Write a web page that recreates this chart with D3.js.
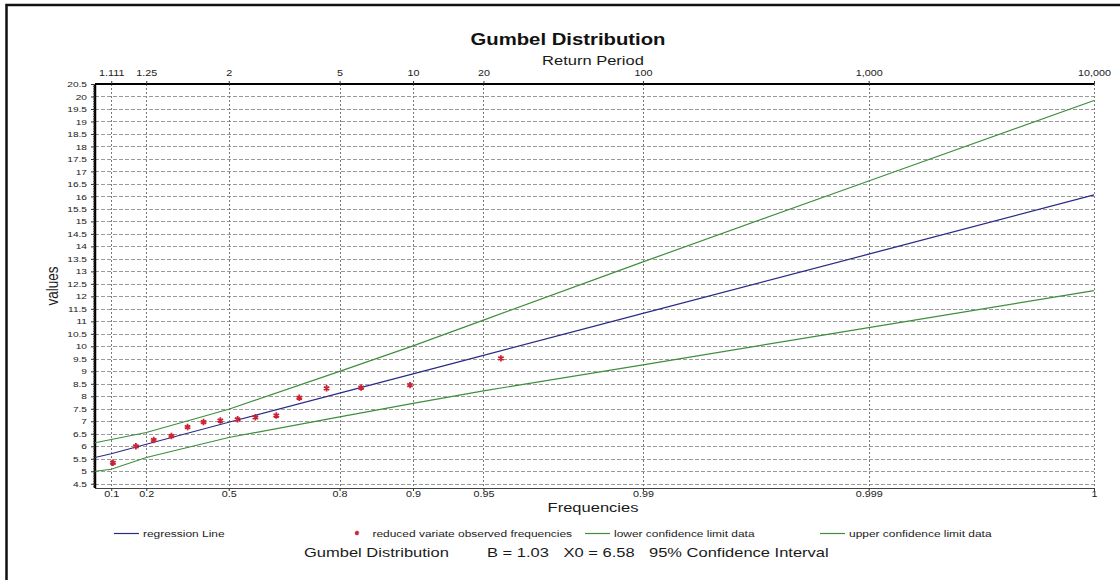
<!DOCTYPE html>
<html>
<head>
<meta charset="utf-8">
<script src="https://cdn.jsdelivr.net/npm/d3@7"></script>
<style>
  body { margin: 0; background: #fff; }
  svg { display: block; font-family: "Liberation Sans", Arial, sans-serif; }
</style>
</head>
<body>
<div id="container"></div>
<script>
// ==================== data ==================== //

// frequency ticks (bottom) and the matching return periods (top)
const freqTicks = [0.1, 0.2, 0.5, 0.8, 0.9, 0.95, 0.99, 0.999, 0.9999];
const freqLabels = ["0.1", "0.2", "0.5", "0.8", "0.9", "0.95", "0.99", "0.999", "1"];
const returnLabels = ["1.111", "1.25", "2", "5", "10", "20", "100", "1,000", "10,000"];

// line samples at the left edge and each tick
const lineFreqs = [0.066, 0.1, 0.2, 0.5, 0.8, 0.9, 0.95, 0.99, 0.999, 0.9999];
const regression = [5.55, 5.70, 6.08, 6.96, 8.13, 8.90, 9.64, 11.32, 13.69, 16.06];
const upperLimit = [6.14, 6.27, 6.55, 7.48, 9.00, 10.02, 11.05, 13.38, 16.62, 19.84];
const lowerLimit = [5.00, 5.08, 5.55, 6.35, 7.18, 7.72, 8.22, 9.26, 10.75, 12.23];

// observed values and their plotting frequencies
const obsFreqs = [0.104, 0.167, 0.225, 0.288, 0.348, 0.408, 0.470, 0.531, 0.590, 0.653, 0.714, 0.775, 0.836, 0.897, 0.958];
const obsValues = [5.34, 6.00, 6.25, 6.41, 6.77, 6.97, 7.03, 7.08, 7.16, 7.23, 7.94, 8.32, 8.35, 8.45, 9.52];

// ==================== chart ==================== //

const width = 1120, height = 580;
const plotLeft = 95, plotRight = 1094, plotTop = 84, plotBottom = 488;

const blue = "#2b2b86";
const green = "#3d8f3d";
const red = "#cc2233";

// the original picture is stretched sideways, so glyphs are wider than normal
const stretch = 1.27;

// Gumbel reduced variate
const reduced = f => -Math.log(-Math.log(f));

const x = d3.scaleLinear().domain([-1, 9.21]).range([plotLeft, plotRight]);
const y = d3.scaleLinear().domain([4.33, 20.5]).range([plotBottom, plotTop]);
const fx = f => x(reduced(f));

const svg = d3.select("#container")
    .append("svg")
    .attr("width", width)
    .attr("height", height);

function addText(parent, tx, ty, str, size, anchor = "start", weight = "normal") {
    return parent.append("text")
        .attr("transform", `translate(${tx},${ty}) scale(${stretch},1)`)
        .attr("text-anchor", anchor)
        .attr("font-size", size)
        .attr("font-weight", weight)
        .attr("fill", "#1a1a1a")
        .text(str);
}

// outer frame (runs off the right and bottom of the picture)
svg.append("rect")
    .attr("x", 6.5).attr("y", 5)
    .attr("width", 1200).attr("height", 700)
    .attr("fill", "none")
    .attr("stroke", "#111")
    .attr("stroke-width", 2.5);

// horizontal grid every 0.5
const yTicks = d3.range(4.5, 20.51, 0.5);
svg.append("g")
    .selectAll("line")
    .data(yTicks)
    .join("line")
    .attr("x1", plotLeft).attr("x2", plotRight)
    .attr("y1", d => Math.round(y(d)) + 0.5)
    .attr("y2", d => Math.round(y(d)) + 0.5)
    .attr("stroke", "#9a9a9a")
    .attr("stroke-width", 1)
    .attr("stroke-dasharray", "4,2");

// vertical grid at the frequency ticks
svg.append("g")
    .selectAll("line")
    .data(freqTicks)
    .join("line")
    .attr("x1", d => Math.round(fx(d)) + 0.5)
    .attr("x2", d => Math.round(fx(d)) + 0.5)
    .attr("y1", plotTop).attr("y2", plotBottom)
    .attr("stroke", "#777")
    .attr("stroke-width", 1)
    .attr("stroke-dasharray", "2,2");

// axes
const yAxis = d3.axisLeft(y)
    .tickValues(yTicks)
    .tickSize(4)
    .tickPadding(4)
    .tickFormat(d3.format("~g"));
const yAxisG = svg.append("g")
    .attr("transform", `translate(${plotLeft},0)`)
    .call(yAxis);

// minor ticks on the value axis
svg.append("g")
    .selectAll("line")
    .data(d3.range(4.4, 20.5, 0.1))
    .join("line")
    .attr("x1", plotLeft - 2).attr("x2", plotLeft)
    .attr("y1", d => y(d)).attr("y2", d => y(d))
    .attr("stroke", "#333")
    .attr("stroke-width", 0.8);

const xBottom = d3.axisBottom(x)
    .tickValues(freqTicks.map(reduced))
    .tickSize(3)
    .tickPadding(0)
    .tickFormat((d, i) => freqLabels[i]);
const xBottomG = svg.append("g")
    .attr("transform", `translate(0,${plotBottom})`)
    .call(xBottom);

const xTop = d3.axisTop(x)
    .tickValues(freqTicks.map(reduced))
    .tickSize(3)
    .tickPadding(5)
    .tickFormat((d, i) => returnLabels[i]);
const xTopG = svg.append("g")
    .attr("transform", `translate(0,${plotTop})`)
    .call(xTop);

[[yAxisG, 8], [xBottomG, 8.5], [xTopG, 8.5]].forEach(([g, size]) => {
    g.selectAll("text")
        .attr("font-family", "Liberation Sans, Arial, sans-serif")
        .attr("font-size", size)
        .attr("fill", "#222")
        .each(function () {
            const t = d3.select(this);
            const tx = +t.attr("x") || 0, ty = +t.attr("y") || 0;
            t.attr("x", 0).attr("y", 0)
                .attr("transform", `translate(${tx},${ty}) scale(${stretch},1)`);
        });
    g.selectAll(".tick line").attr("stroke", "#333");
});
yAxisG.select(".domain").attr("stroke", "#000").attr("stroke-width", 2.5)
    .attr("d", `M0,${plotTop}V${plotBottom}`);
xTopG.select(".domain").attr("stroke", "#000").attr("stroke-width", 2)
    .attr("d", `M${plotLeft},0H${plotRight}`);
xBottomG.select(".domain").attr("stroke", "#444").attr("stroke-width", 1.2)
    .attr("d", `M${plotLeft},0.5H${plotRight}`);

// lines
const line = d3.line()
    .x((d, i) => fx(lineFreqs[i]))
    .y(d => y(d));

[[upperLimit, green], [lowerLimit, green], [regression, blue]].forEach(([vals, color]) => {
    svg.append("path")
        .datum(vals)
        .attr("d", line)
        .attr("fill", "none")
        .attr("stroke", color)
        .attr("stroke-width", 1.2);
});

// observed points
const star = d3.symbol().type(d3.symbolAsterisk).size(28);
svg.append("g")
    .selectAll("path")
    .data(obsValues)
    .join("path")
    .attr("d", star)
    .attr("transform", (d, i) => `translate(${fx(obsFreqs[i])},${y(d)})`)
    .attr("fill", "none")
    .attr("stroke", red)
    .attr("stroke-width", 1.8);

// titles
addText(svg, 568, 45, "Gumbel Distribution", 16, "middle", "bold").attr("fill", "#111");
addText(svg, 593, 64.5, "Return Period", 13, "middle");
addText(svg, 593, 511.5, "Frequencies", 13, "middle");

svg.append("text")
    .attr("transform", `translate(57.5,286) rotate(-90) scale(1,${stretch})`)
    .attr("text-anchor", "middle")
    .attr("font-size", 13.5)
    .attr("fill", "#1a1a1a")
    .text("values");

// legend
const legend = [
    { label: "regression Line", color: blue, type: "line", x: 114 },
    { label: "reduced variate observed frequencies", color: red, type: "star", x: 357 },
    { label: "lower confidence limit data", color: green, type: "line", x: 585 },
    { label: "upper confidence limit data", color: green, type: "line", x: 820 }
];
const legendY = 533;
const lg = svg.append("g");
legend.forEach(item => {
    if (item.type === "line") {
        lg.append("line")
            .attr("x1", item.x).attr("x2", item.x + 25)
            .attr("y1", legendY + 0.5).attr("y2", legendY + 0.5)
            .attr("stroke", item.color)
            .attr("stroke-width", 1.2);
    } else {
        lg.append("path")
            .attr("d", d3.symbol().type(d3.symbolAsterisk).size(14))
            .attr("transform", `translate(${item.x},${legendY})`)
            .attr("fill", "none")
            .attr("stroke", item.color)
            .attr("stroke-width", 1.5);
    }
    addText(lg, item.type === "line" ? item.x + 29 : item.x + 15.5, legendY + 3.5, item.label, 9.4)
        .attr("fill", "#222");
});

// summary line
const summary = [
    { text: "Gumbel Distribution", x: 304 },
    { text: "B = 1.03", x: 487 },
    { text: "X0 = 6.58", x: 563.5 },
    { text: "95% Confidence Interval", x: 649 }
];
const sg = svg.append("g");
summary.forEach(d => addText(sg, d.x, 557, d.text, 13));
</script>
</body>
</html>
